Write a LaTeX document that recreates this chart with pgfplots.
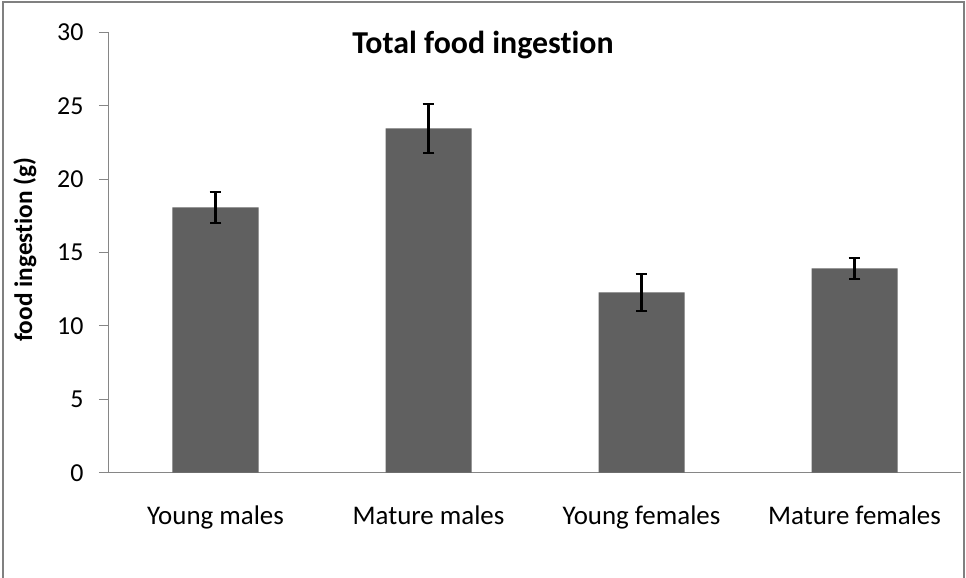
\documentclass[border=0pt]{standalone}
\usepackage{pgfplots}
\pgfplotsset{compat=1.18}
\usepackage{fontspec}
\setmainfont{Carlito}[RawFeature={-liga}]
\definecolor{barcol}{RGB}{96,96,96}
\definecolor{axgray}{RGB}{134,134,134}
\definecolor{framegray}{RGB}{128,128,128}
\begin{document}
\begin{tikzpicture}
\useasboundingbox (-109bp,-105.3bp) rectangle (857bp,472.7bp);
\begin{axis}[
  at={(0,0)}, anchor=south west,
  scale only axis, width=852bp, height=440.2bp,
  xmin=0.5, xmax=4.5, ymin=0, ymax=30,
  ybar, bar width=86bp,
  axis x line*=bottom, axis y line*=left,
  axis line style={-, draw=axgray, line width=1bp},
  ytick={0,5,...,30},
  xtick={1,2,3,4},
  xticklabels={Young males, Mature males, Young females, Mature females},
  x tick style={draw=none},
  extra x ticks={0.5,1.5,2.5,3.5,4.5},
  extra x tick labels={},
  extra x tick style={tick style={draw=axgray, line width=1bp}, major tick length=8bp},
  tick align=outside,
  y tick style={draw=axgray, line width=1bp},
  major tick length=10bp,
  tick label style={font=\fontsize{26}{30}\selectfont},
  /pgf/number format/assume math mode=true,
  yticklabel style={xshift=-12bp},
  xticklabel style={font=\fontsize{27}{31}\selectfont, anchor=base, yshift=-42bp},
  clip=false,
]
\addplot[fill=barcol, draw=none,
  error bars/.cd, y dir=both, y explicit,
  error bar style={line width=2.6bp, black},
  error mark options={rotate=90, mark size=5.8bp, line width=2.4bp, black}]
  table[x=x, y=y, y error=e] {
x y e
1 18.08 1.06
2 23.46 1.67
3 12.29 1.27
4 13.92 0.70
};
\end{axis}
\node[anchor=base, font=\bfseries\fontsize{32}{36}\selectfont] at (374bp,419.4bp) {Total food ingestion};
\node[rotate=90, font=\bfseries\fontsize{25.4}{30}\selectfont] at (-84bp,223bp) {food ingestion (g)};
\draw[framegray, line width=2bp] (-106bp,-105.3bp) -- (-106bp,470.5bp) -- (855bp,470.5bp) -- (855bp,-105.3bp);
\end{tikzpicture}
\end{document}
